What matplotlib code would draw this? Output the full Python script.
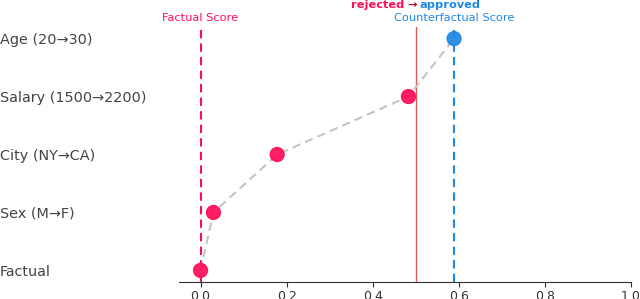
import matplotlib.pyplot as plt

features = ['Factual', 'Sex (M\u2192F)', 'City (NY\u2192CA)', 'Salary (1500\u21922200)', 'Age (20\u219230)']
scores = [0.0, 0.03, 0.178, 0.483, 0.589]
threshold = 0.5
factual_score = 0.0
cf_score = 0.589

pink = '#ff0d57'
blue = '#1e88e5'

fig = plt.figure(figsize=(6.4, 2.99), dpi=100)
ax = fig.add_axes([179 / 640, 1 - 282 / 299, (631 - 179) / 640, 255 / 299])

y = list(range(len(features)))
ax.axvline(threshold, color='#e05a5a', lw=1, zorder=1)
ax.axvline(factual_score, color=pink, lw=1.5, ls=(0, (4, 2.5)), zorder=1)
ax.axvline(cf_score, color=blue, lw=1.5, ls=(0, (4, 2.5)), zorder=1)
ax.plot(scores, y, color='#c4c4c4', lw=1.5, ls=(0, (4, 2.5)), zorder=2)
colors = [pink] * (len(scores) - 1) + [blue]
ax.scatter(scores, y, s=100, c=colors, alpha=0.92, zorder=3)

ax.set_xlim(-0.05, 1.0)
ax.set_ylim(-0.2, 4.2)
ax.set_yticks(y)
ax.set_yticklabels(features, fontsize=10.4, color='#444444')
for lbl in ax.get_yticklabels():
    lbl.set_ha('left')
ax.tick_params(axis='y', length=0, pad=129)
ax.tick_params(axis='x', labelsize=9, pad=2, color='#333333', labelcolor='#333333')
for s in ['top', 'right', 'left']:
    ax.spines[s].set_visible(False)
ax.spines['bottom'].set_color('#333333')

trans = ax.get_xaxis_transform()
ax.text(factual_score, 1.015, 'Factual Score', color=pink, fontsize=8.2,
        ha='center', va='bottom', transform=trans)
ax.text(cf_score, 1.015, 'Counterfactual Score', color=blue, fontsize=8.2,
        ha='center', va='bottom', transform=trans)
ax.annotate('\u2192', (threshold, 1.068), xycoords=trans, color='#b01030',
            fontsize=8.2, fontweight='bold', ha='center', va='bottom',
            xytext=(-3, 0), textcoords='offset points')
ax.annotate('rejected', (threshold, 1.068), xycoords=trans, color=pink,
            fontsize=8.2, fontweight='bold', ha='right', va='bottom',
            xytext=(-8, 0), textcoords='offset points')
ax.annotate('approved', (threshold, 1.068), xycoords=trans, color=blue,
            fontsize=8.2, fontweight='bold', ha='left', va='bottom',
            xytext=(3, 0), textcoords='offset points')

fig.savefig('out.png', dpi=100)
